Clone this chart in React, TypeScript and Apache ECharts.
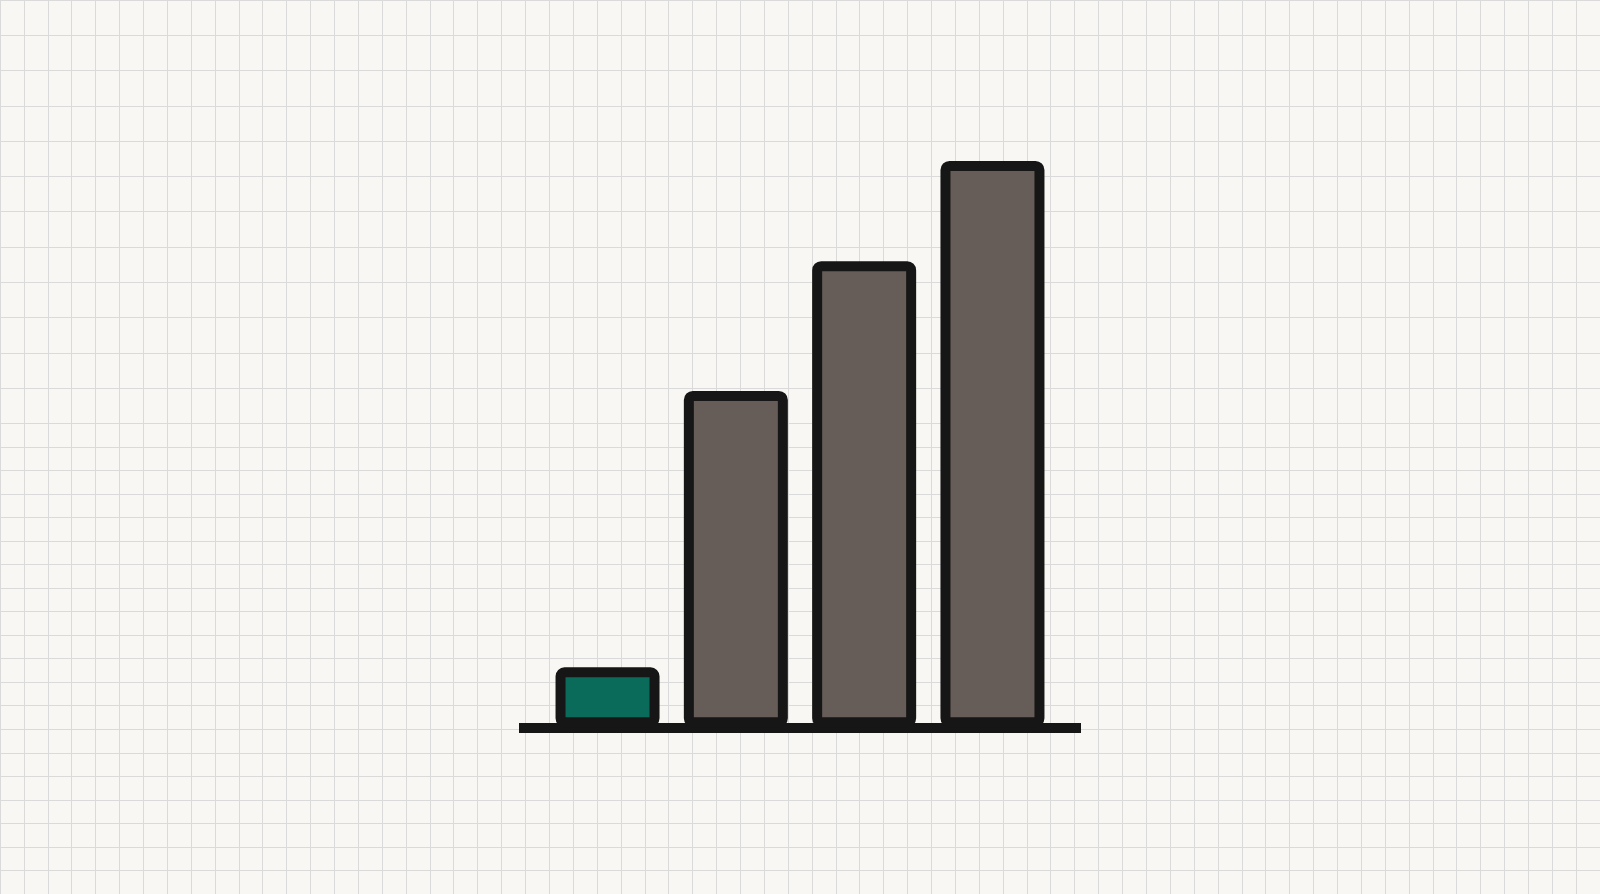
import { useEffect, useRef } from "react";
import * as echarts from "echarts";

// bar data (no axis labels in the picture, values read relative to the tallest bar)
const categories = ["1", "2", "3", "4"];
const positions = [1, 2, 3, 4];
const values = [10.6, 59.4, 82.3, 100];
const highlightIndex = 0;

// background paper grid: number of cells in each band
const paperCols = 67;
const paperRowsTop = 12;
const paperRowsBottom = 20;

const GREEN = "#0b6b5a";
const GREY = "#665d59";
const INK = "#161616";
const PAPER = "#f8f7f4";
const RULE = "#dadada";

export default function App() {
  const ref = useRef<HTMLDivElement>(null);

  useEffect(() => {
    if (!ref.current) return;
    const chart = echarts.init(ref.current, undefined, { renderer: "svg" });

    const paperAxis = (max: number) => ({
      type: "value" as const,
      min: 0,
      max,
      interval: 1,
      axisLine: { show: false },
      axisTick: { show: false },
      axisLabel: { show: false },
      splitLine: { show: true, lineStyle: { color: RULE, width: 1 } },
    });

    chart.setOption({
      animation: false,
      backgroundColor: PAPER,
      grid: [
        { left: 519, right: 519, top: 47.7, bottom: 166.7 },
        { left: 0, right: 0, top: -3.25, height: 426.55 },
        { left: 0, right: 0, top: 423.3, height: 475.4 },
      ],
      xAxis: [
        {
          gridIndex: 0,
          type: "value",
          min: 0.31,
          max: 4.69,
          axisLine: {
            show: true,
            onZero: true,
            lineStyle: { color: INK, width: 10, cap: "butt" },
          },
          axisTick: { show: false },
          axisLabel: { show: false },
          splitLine: { show: false },
        },
        { gridIndex: 1, ...paperAxis(paperCols) },
        { gridIndex: 2, ...paperAxis(paperCols) },
      ],
      yAxis: [
        { gridIndex: 0, type: "value", min: 0, max: 120, show: false },
        { gridIndex: 1, ...paperAxis(paperRowsTop) },
        { gridIndex: 2, ...paperAxis(paperRowsBottom) },
      ],
      series: [
        {
          type: "bar",
          xAxisIndex: 0,
          yAxisIndex: 0,
          barWidth: 104,
          z: 3,
          data: values.map((v, i) => ({
            name: categories[i],
            value: [positions[i], v],
            itemStyle: { color: i === highlightIndex ? GREEN : GREY },
          })),
          itemStyle: { borderColor: INK, borderWidth: 10, borderRadius: 4 },
        },
      ],
    });

    return () => chart.dispose();
  }, []);

  return (
    <div
      ref={ref}
      style={{ position: "fixed", left: 0, top: 0, width: 1600, height: 894 }}
    />
  );
}
